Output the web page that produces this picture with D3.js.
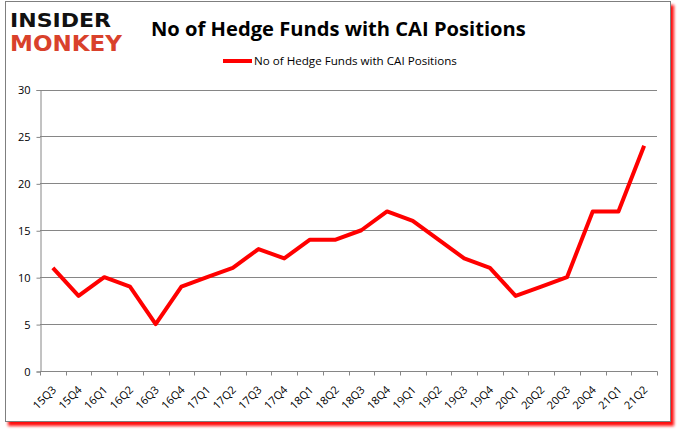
<!DOCTYPE html>
<html>
<head>
<meta charset="utf-8">
<script src="https://cdn.jsdelivr.net/npm/d3@7"></script>
<style>
  body { margin: 0; background: #fff; }
  text { font-family: "Open Sans", "Liberation Sans", sans-serif; }
</style>
</head>
<body>
<div id="chart"></div>
<script>
// Data
var quarters = ["15Q3", "15Q4", "16Q1", "16Q2", "16Q3", "16Q4", "17Q1", "17Q2", "17Q3", "17Q4",
  "18Q1", "18Q2", "18Q3", "18Q4", "19Q1", "19Q2", "19Q3", "19Q4", "20Q1", "20Q2",
  "20Q3", "20Q4", "21Q1", "21Q2"];
var funds = [11, 8, 10, 9, 5, 9, 10, 11, 13, 12, 14, 14, 15, 17, 16, 14, 12, 11, 8, 9, 10, 17, 17, 24];
var yTicks = [0, 5, 10, 15, 20, 25, 30];
var seriesName = "No of Hedge Funds with CAI Positions";
var chartTitle = "No of Hedge Funds with CAI Positions";

var svgWidth = 678;
var svgHeight = 431;

// plot area inside the frame
var plot = { left: 40, right: 657, top: 89.5, bottom: 371 };

var svg = d3.select("#chart")
  .append("svg")
  .attr("width", svgWidth)
  .attr("height", svgHeight);

// red blurred shadow behind the frame
var defs = svg.append("defs");
defs.append("filter")
  .attr("id", "blur")
  .attr("x", "-5%").attr("y", "-5%").attr("width", "110%").attr("height", "110%")
  .append("feGaussianBlur")
  .attr("stdDeviation", 1.5);

svg.append("rect")
  .attr("x", 8).attr("y", 5)
  .attr("width", 666).attr("height", 421)
  .attr("fill", "#ff1010")
  .attr("filter", "url(#blur)");

svg.append("rect")
  .attr("x", 5.5).attr("y", 1.5)
  .attr("width", 665).attr("height", 420)
  .attr("fill", "#fff")
  .attr("stroke", "#7f7f7f")
  .attr("stroke-width", 1);

// logo
var logo = svg.append("g");
logo.append("text")
  .attr("x", 10).attr("y", 26.5)
  .attr("textLength", 101)
  .attr("lengthAdjust", "spacingAndGlyphs")
  .style("font-family", "DejaVu Sans")
  .style("font-weight", "bold")
  .style("font-size", "19px")
  .attr("fill", "#111")
  .text("INSIDER");
logo.append("text")
  .attr("x", 10).attr("y", 50.5)
  .attr("textLength", 112)
  .attr("lengthAdjust", "spacingAndGlyphs")
  .style("font-family", "DejaVu Sans")
  .style("font-weight", "bold")
  .style("font-size", "22px")
  .attr("fill", "#d9412b")
  .text("MONKEY");

// title
var title = svg.append("text")
  .attr("x", 151).attr("y", 36)
  .style("font-weight", "bold")
  .style("font-size", "21px")
  .attr("fill", "#000")
  .text(chartTitle);
var tw = title.node().getComputedTextLength();
title.style("font-size", (21 * 375 / tw) + "px");

// legend
var legend = svg.append("g");
legend.append("line")
  .attr("x1", 223).attr("x2", 252)
  .attr("y1", 61).attr("y2", 61)
  .attr("stroke", "#ff0000")
  .attr("stroke-width", 4);
var legText = legend.append("text")
  .attr("x", 254).attr("y", 65)
  .style("font-size", "11px")
  .attr("fill", "#000")
  .text(seriesName);
var lw = legText.node().getComputedTextLength();
legText.style("font-size", (11 * 203 / lw) + "px");

// scales
var xBandScale = d3.scaleBand()
  .domain(quarters)
  .range([plot.left, plot.right]);

var yLinearScale = d3.scaleLinear()
  .domain([0, 30])
  .range([plot.bottom, plot.top]);

// gridlines
svg.append("g")
  .selectAll("line")
  .data(yTicks.filter(d => d > 0))
  .enter()
  .append("line")
  .attr("x1", plot.left).attr("x2", plot.right)
  .attr("y1", d => Math.round(yLinearScale(d)) + 0.5)
  .attr("y2", d => Math.round(yLinearScale(d)) + 0.5)
  .attr("stroke", "#868686")
  .attr("stroke-width", 1);

// y axis
var leftAxis = d3.axisLeft(yLinearScale)
  .tickValues(yTicks)
  .tickSize(4)
  .tickPadding(6);
var yAxisG = svg.append("g")
  .attr("transform", `translate(${plot.left + 0.5}, 0.5)`)
  .call(leftAxis);
yAxisG.select(".domain").attr("stroke", "#868686");
yAxisG.selectAll(".tick line").attr("stroke", "#868686");
yAxisG.selectAll(".tick text")
  .style("font-family", "Open Sans, sans-serif")
  .style("font-size", "11px")
  .attr("fill", "#000");

// x axis: ticks on band boundaries
var xAxisG = svg.append("g")
  .attr("transform", `translate(0, ${plot.bottom + 0.5})`);
xAxisG.append("line")
  .attr("x1", plot.left).attr("x2", plot.right + 0.5)
  .attr("stroke", "#868686");
var boundaries = quarters.map(q => xBandScale(q)).concat([plot.right]);
xAxisG.selectAll(".xtick")
  .data(boundaries)
  .enter()
  .append("line")
  .attr("class", "xtick")
  .attr("x1", d => Math.round(d) + 0.5).attr("x2", d => Math.round(d) + 0.5)
  .attr("y1", 0).attr("y2", 4)
  .attr("stroke", "#868686");
xAxisG.selectAll(".xlabel")
  .data(quarters)
  .enter()
  .append("text")
  .attr("class", "xlabel")
  .attr("text-anchor", "end")
  .attr("transform", d => `translate(${xBandScale(d) + xBandScale.bandwidth() / 2 + 4}, 19) rotate(-45)`)
  .style("font-size", "11px")
  .attr("fill", "#000")
  .text(d => d);

// the series line
var line = d3.line()
  .x((d, i) => xBandScale(quarters[i]) + xBandScale.bandwidth() / 2)
  .y(d => yLinearScale(d));

svg.append("path")
  .datum(funds)
  .attr("d", line)
  .attr("fill", "none")
  .attr("stroke", "#ff0000")
  .attr("stroke-width", 4)
  .attr("stroke-linejoin", "round");
</script>
</body>
</html>
